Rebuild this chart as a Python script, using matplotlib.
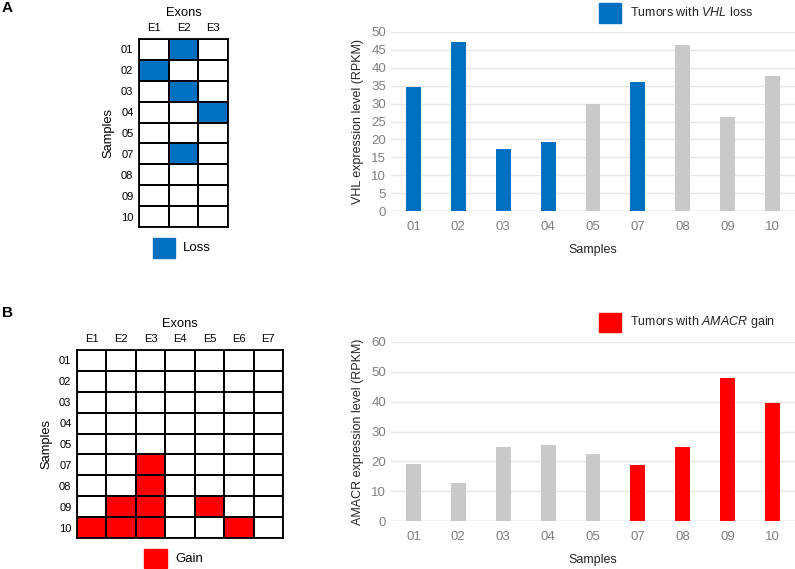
import matplotlib.pyplot as plt
import numpy as np
from matplotlib.colors import ListedColormap

plt.rcParams['font.family'] = ['Liberation Sans', 'DejaVu Sans']
plt.rcParams['mathtext.fontset'] = 'custom'
plt.rcParams['mathtext.it'] = 'Liberation Sans:italic'
plt.rcParams['mathtext.rm'] = 'Liberation Sans'

# data
samples = ['01', '02', '03', '04', '05', '07', '08', '09', '10']
exons_a = ['E1', 'E2', 'E3']
exons_b = ['E1', 'E2', 'E3', 'E4', 'E5', 'E6', 'E7']

# VHL exon loss (1 = loss), rows = samples, cols = exons
vhl_loss = [[0, 1, 0],
            [1, 0, 0],
            [0, 1, 0],
            [0, 0, 1],
            [0, 0, 0],
            [0, 1, 0],
            [0, 0, 0],
            [0, 0, 0],
            [0, 0, 0]]
vhl_expr = [34.6, 47.1, 17.4, 19.4, 30.0, 36.1, 46.5, 26.3, 37.8]
vhl_flag = [1, 1, 1, 1, 0, 1, 0, 0, 0]

# AMACR exon gain (1 = gain)
amacr_gain = [[0, 0, 0, 0, 0, 0, 0],
              [0, 0, 0, 0, 0, 0, 0],
              [0, 0, 0, 0, 0, 0, 0],
              [0, 0, 0, 0, 0, 0, 0],
              [0, 0, 0, 0, 0, 0, 0],
              [0, 0, 1, 0, 0, 0, 0],
              [0, 0, 1, 0, 0, 0, 0],
              [0, 1, 1, 0, 1, 0, 0],
              [1, 1, 1, 0, 0, 1, 0]]
amacr_expr = [19.0, 12.9, 24.9, 25.5, 22.4, 18.7, 24.9, 47.8, 39.6]
amacr_flag = [0, 0, 0, 0, 0, 1, 1, 1, 1]

blue = '#0070C0'
red = '#FF0000'
grey = '#C9C9C9'
tick_grey = '#808080'
W, H = 795, 569


def px(l, t, r, b):
    return [l / W, 1 - b / H, (r - l) / W, (b - t) / H]


fig = plt.figure(figsize=(7.95, 5.69), dpi=100)


def grid_panel(rect, mat, exons, col, leg_label, leg_xy):
    ax = fig.add_axes(rect)
    m = np.array(mat)
    ax.pcolormesh(m, cmap=ListedColormap(['white', col]), vmin=0, vmax=1,
                  edgecolors='black', linewidth=1.3)
    ax.set_xlim(0, m.shape[1])
    ax.set_ylim(m.shape[0], 0)
    ax.set_xticks(np.arange(m.shape[1]) + 0.5)
    ax.set_xticklabels(exons, fontsize=8)
    ax.set_yticks(np.arange(m.shape[0]) + 0.5)
    ax.set_yticklabels(samples, fontsize=8)
    ax.xaxis.tick_top()
    ax.xaxis.set_label_position('top')
    ax.tick_params(length=0, pad=4)
    ax.set_xlabel('Exons', fontsize=9.3, labelpad=5)
    ax.set_ylabel('Samples', fontsize=9.3, labelpad=5)
    for s in ax.spines.values():
        s.set_linewidth(1.3)
    x, y, w, h = leg_xy
    fig.patches.append(plt.Rectangle((x / W, 1 - (y + h) / H), w / W, h / H,
                                     transform=fig.transFigure, color=col))
    fig.text((x + w + 8) / W, 1 - (y + h / 2) / H, leg_label, fontsize=9.5,
             va='center', ha='left')
    return ax


def bar_panel(rect, vals, flags, col, ymax, step, ylabel, leg_text, leg_xy):
    ax = fig.add_axes(rect)
    x = np.arange(len(samples))
    colors = [col if f else grey for f in flags]
    ax.bar(x, vals, width=0.33, color=colors, zorder=3)
    ax.set_xlim(-0.5, len(samples) - 0.5)
    ax.set_ylim(0, ymax)
    ax.set_yticks(np.arange(0, ymax + 1, step))
    ax.set_xticks(x)
    ax.set_xticklabels(samples)
    ax.tick_params(length=0, colors=tick_grey, labelsize=9.5)
    ax.tick_params(axis='x', pad=7)
    ax.grid(axis='y', color='#E6E6E6', linewidth=1, zorder=0)
    for s in ax.spines.values():
        s.set_visible(False)
    ax.axhline(0, color='#D9D9D9', linewidth=1, zorder=2)
    ax.set_ylabel(ylabel, fontsize=9, color='#262626', labelpad=5)
    ax.set_xlabel('Samples', fontsize=9, color='#262626', labelpad=8)
    lx, ly, lw, lh = leg_xy
    fig.patches.append(plt.Rectangle((lx / W, 1 - (ly + lh) / H), lw / W, lh / H,
                                     transform=fig.transFigure, color=col))
    fig.text((lx + lw + 9) / W, 1 - (ly + lh / 2) / H, leg_text, fontsize=9,
             va='center', ha='left', color='#262626')
    return ax


grid_panel(px(139, 39, 228, 227), vhl_loss, exons_a, blue, 'Loss',
           (153, 238, 22, 20))
grid_panel(px(77, 350, 283, 538), amacr_gain, exons_b, red, 'Gain',
           (144, 549, 23, 19))

bar_panel(px(391, 32, 795, 211), vhl_expr, vhl_flag, blue, 50, 5,
          'VHL expression level (RPKM)', r'Tumors with $\it{VHL}$ loss',
          (599, 3, 22, 20))
bar_panel(px(391, 342, 795, 521), amacr_expr, amacr_flag, red, 60, 10,
          'AMACR expression level (RPKM)', r'Tumors with $\it{AMACR}$ gain',
          (599, 313, 22, 19))

fig.text(2 / W, 1 - 8 / H, 'A', fontsize=11, fontweight='bold', va='center')
fig.text(2 / W, 1 - 313 / H, 'B', fontsize=11, fontweight='bold', va='center')

plt.savefig('out.png', dpi=100)
